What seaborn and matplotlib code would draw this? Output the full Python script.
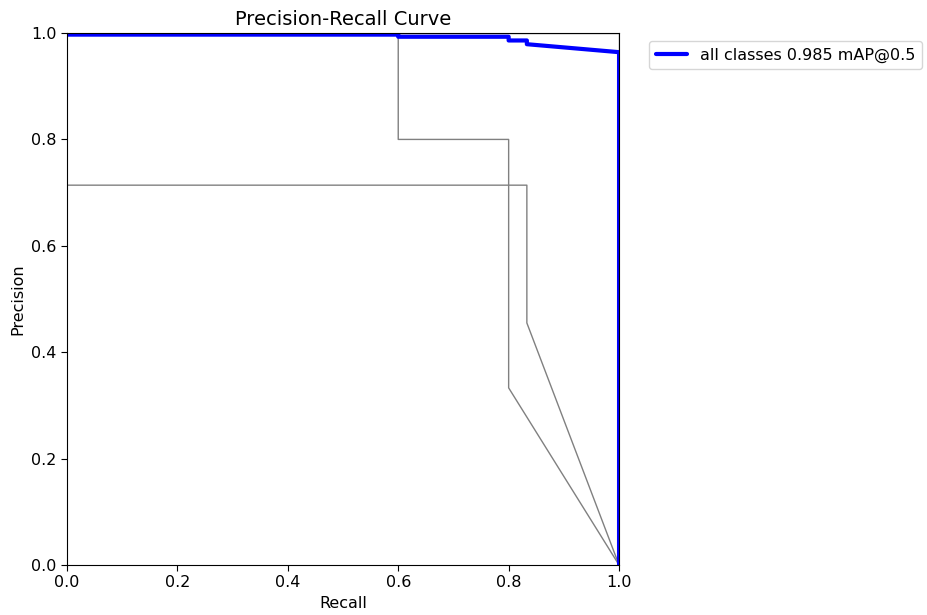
import matplotlib
matplotlib.use("Agg")
import matplotlib.pyplot as plt
import seaborn as sns
import pandas as pd

# Per-class curves (grey)
class_a_recall = [0.0, 0.6, 0.6, 0.8, 0.8, 1.0]
class_a_precision = [1.0, 1.0, 0.8, 0.8, 0.333, 0.0]
class_b_recall = [0.0, 0.833, 0.833, 1.0]
class_b_precision = [0.714, 0.714, 0.455, 0.0]
class_c_recall = [0.0, 1.0, 1.0]
class_c_precision = [1.0, 1.0, 0.0]

# All classes (blue)
all_recall = [0.0, 0.6, 0.6, 0.8, 0.8, 0.833, 0.833, 1.0, 1.0]
all_precision = [0.997, 0.997, 0.993, 0.993, 0.986, 0.986, 0.979, 0.964, 0.0]
all_label = "all classes 0.985 mAP@0.5"

sns.set_style("ticks", rc={
    "text.color": "black", "axes.labelcolor": "black",
    "xtick.color": "black", "ytick.color": "black",
    "axes.edgecolor": "black",
})
plt.rcParams['font.family'] = ['DejaVu Sans']

fig = plt.figure(figsize=(9.27, 6.15), dpi=100)
ax = fig.add_axes([0.0723, 0.0813, 0.5955, 0.865])

for r, p in [(class_c_recall, class_c_precision),
             (class_a_recall, class_a_precision),
             (class_b_recall, class_b_precision)]:
    df = pd.DataFrame({"Recall": r, "Precision": p})
    sns.lineplot(data=df, x="Recall", y="Precision", sort=False, estimator=None,
                 color="grey", linewidth=1, ax=ax)

df_all = pd.DataFrame({"Recall": all_recall, "Precision": all_precision})
sns.lineplot(data=df_all, x="Recall", y="Precision", sort=False, estimator=None,
             color="blue", linewidth=3, label=all_label, ax=ax)

ax.set_xlim(0, 1)
ax.set_ylim(0, 1)
ax.set_xlabel("Recall", fontsize=11.5)
ax.set_ylabel("Precision", fontsize=11.5)
ax.set_title("Precision-Recall Curve", fontsize=14)
ax.tick_params(labelsize=11.5, length=4)
for s in ax.spines.values():
    s.set_visible(True)
ax.legend(bbox_to_anchor=(1.04, 1), loc="upper left", fontsize=11.5)

fig.savefig("out.png", dpi=100)
